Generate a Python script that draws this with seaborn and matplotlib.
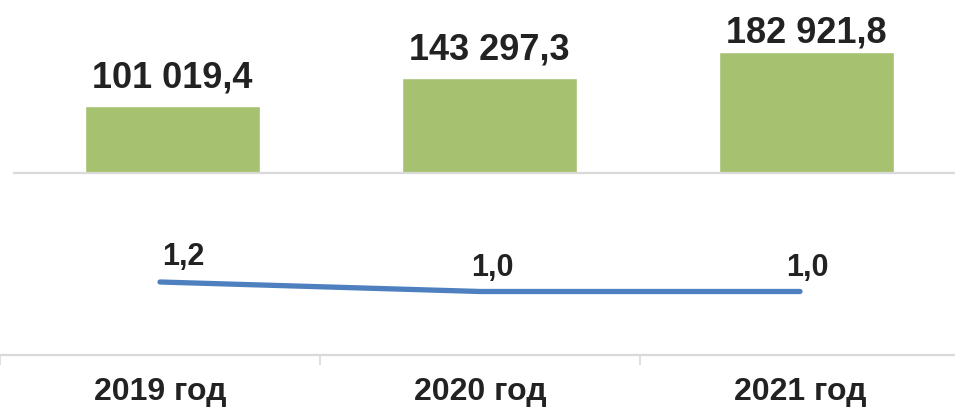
import pandas as pd
import matplotlib.pyplot as plt
import seaborn as sns

# chart data
years = ['2019 год', '2020 год', '2021 год']
amounts = [101019.4, 143297.3, 182921.8]
amount_labels = ['101 019,4', '143 297,3', '182 921,8']
ratios = [1.2, 1.0, 1.0]
ratio_labels = ['1,2', '1,0', '1,0']

df = pd.DataFrame({'year': years, 'amount': amounts, 'ratio': ratios})

sns.set_theme(style='white')
plt.rcParams['font.family'] = ['Liberation Sans', 'DejaVu Sans']

W, H = 955, 411
fig = plt.figure(figsize=(W / 100, H / 100), dpi=100)

bar_color = '#a6c170'
line_color = '#4e7fbf'
axis_color = '#d9d9d9'
text_color = '#222222'

# --- top panel: bars ---
ax_top = fig.add_axes([14 / W, (H - 173) / H, 951 / W, 173 / H])
sns.barplot(data=df, x='year', y='amount', color=bar_color, width=0.55,
            saturation=1, ax=ax_top)
ax_top.set_xlim(-0.5, 2.5)
ax_top.set_ylim(0, 173 * 1509)
ax_top.set_xlabel('')
ax_top.set_ylabel('')
ax_top.set_xticks([])
ax_top.set_yticks([])
for side in ['top', 'left', 'right']:
    ax_top.spines[side].set_visible(False)
ax_top.spines['bottom'].set_color(axis_color)
ax_top.spines['bottom'].set_linewidth(1.6)

label_gaps = [13, 13, 7]
for i, (v, lab) in enumerate(zip(amounts, amount_labels)):
    ax_top.annotate(lab, (i, v), xytext=(0, label_gaps[i]), textcoords='offset points',
                    ha='center', va='baseline', fontsize=26, fontweight='bold',
                    color=text_color, annotation_clip=False)

# --- bottom panel: line ---
px_per_unit = 47.5
ax_bot = fig.add_axes([0, (H - 355) / H, 960 / W, 160 / H])
sns.lineplot(data=df, x='year', y='ratio', color=line_color, linewidth=3.8,
             ax=ax_bot, sort=False)
for ln in ax_bot.lines:
    ln.set_solid_capstyle('round')
ymin = 1.0 - (355 - 291.5) / px_per_unit
ax_bot.set_ylim(ymin, ymin + 160 / px_per_unit)
ax_bot.set_xlim(-0.5, 2.5)
ax_bot.set_xlabel('')
ax_bot.set_ylabel('')
ax_bot.set_yticks([])
ax_bot.set_xticks([0, 1, 2])
ax_bot.set_xticklabels(years, fontsize=23, fontweight='bold', color=text_color)
ax_bot.set_xticks([-0.5, 0.5, 1.5, 2.5], minor=True)
ax_bot.tick_params(axis='x', which='major', length=0, pad=16)
ax_bot.tick_params(axis='x', which='minor', length=7, width=1.2, color=axis_color,
                   direction='out', bottom=True)
for side in ['top', 'left', 'right']:
    ax_bot.spines[side].set_visible(False)
ax_bot.spines['bottom'].set_color(axis_color)
ax_bot.spines['bottom'].set_linewidth(1.6)

ratio_offsets = [(17, 12), (9, 11), (5, 11)]
for i, (v, lab) in enumerate(zip(ratios, ratio_labels)):
    ax_bot.annotate(lab, (i, v), xytext=ratio_offsets[i], textcoords='offset points',
                    ha='center', va='baseline', fontsize=22, fontweight='bold',
                    color=text_color, annotation_clip=False)

fig.savefig('out.png', dpi=100)
